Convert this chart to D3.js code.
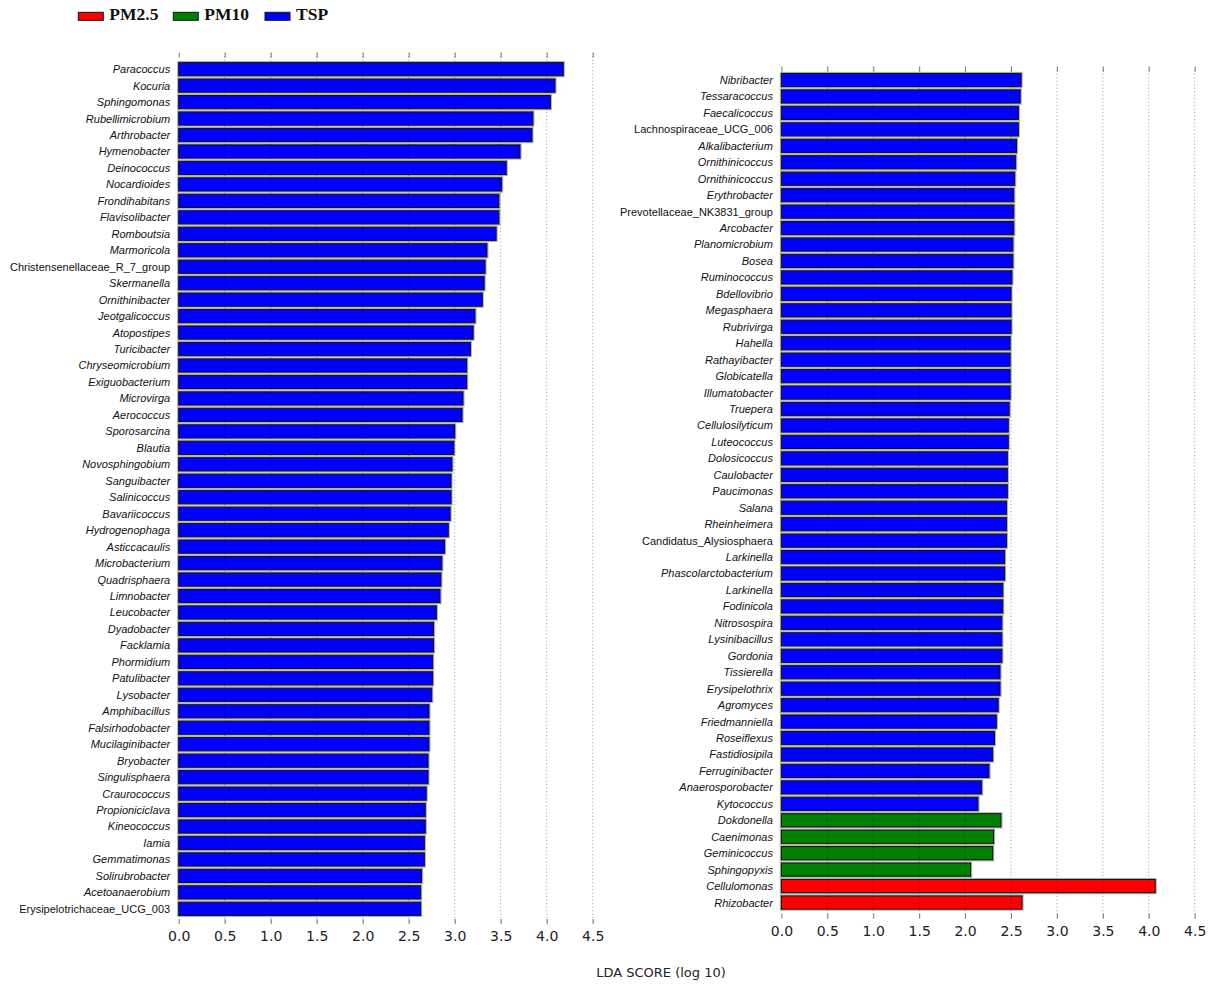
<!DOCTYPE html>
<html>
<head>
<meta charset="utf-8">
<script src="https://cdn.jsdelivr.net/npm/d3@7/dist/d3.min.js"></script>
<style>
  html, body { margin: 0; padding: 0; background: #fff; }
  svg { display: block; }
</style>
</head>
<body>
<div id="chart"></div>
<script>
// LEfSe LDA scores of discriminative genera, grouped by particle-size fraction
const groups = ["PM2.5", "PM10", "TSP"];
const groupColors = ["#ff0000", "#008000", "#0000ff"];

const leftTaxa = [
  "Paracoccus", "Kocuria", "Sphingomonas", "Rubellimicrobium", "Arthrobacter",
  "Hymenobacter", "Deinococcus", "Nocardioides", "Frondihabitans", "Flavisolibacter",
  "Romboutsia", "Marmoricola", "Christensenellaceae_R_7_group", "Skermanella", "Ornithinibacter",
  "Jeotgalicoccus", "Atopostipes", "Turicibacter", "Chryseomicrobium", "Exiguobacterium",
  "Microvirga", "Aerococcus", "Sporosarcina", "Blautia", "Novosphingobium",
  "Sanguibacter", "Salinicoccus", "Bavariicoccus", "Hydrogenophaga", "Asticcacaulis",
  "Microbacterium", "Quadrisphaera", "Limnobacter", "Leucobacter", "Dyadobacter",
  "Facklamia", "Phormidium", "Patulibacter", "Lysobacter", "Amphibacillus",
  "Falsirhodobacter", "Mucilaginibacter", "Bryobacter", "Singulisphaera", "Craurococcus",
  "Propioniciclava", "Kineococcus", "Iamia", "Gemmatimonas", "Solirubrobacter",
  "Acetoanaerobium", "Erysipelotrichaceae_UCG_003"
];
const leftScores = [
  4.18, 4.09, 4.04, 3.85, 3.84,
  3.71, 3.56, 3.51, 3.48, 3.48,
  3.45, 3.35, 3.33, 3.32, 3.30,
  3.22, 3.20, 3.17, 3.13, 3.13,
  3.09, 3.08, 3.00, 2.99, 2.97,
  2.96, 2.96, 2.95, 2.93, 2.89,
  2.86, 2.85, 2.84, 2.80, 2.77,
  2.77, 2.76, 2.76, 2.75, 2.72,
  2.72, 2.72, 2.71, 2.71, 2.69,
  2.68, 2.68, 2.67, 2.67, 2.64,
  2.63, 2.63
];
const leftGroups = leftTaxa.map(() => "TSP");

const rightTaxa = [
  "Nibribacter", "Tessaracoccus", "Faecalicoccus", "Lachnospiraceae_UCG_006", "Alkalibacterium",
  "Ornithinicoccus", "Ornithinicoccus", "Erythrobacter", "Prevotellaceae_NK3831_group", "Arcobacter",
  "Planomicrobium", "Bosea", "Ruminococcus", "Bdellovibrio", "Megasphaera",
  "Rubrivirga", "Hahella", "Rathayibacter", "Globicatella", "Illumatobacter",
  "Truepera", "Cellulosilyticum", "Luteococcus", "Dolosicoccus", "Caulobacter",
  "Paucimonas", "Salana", "Rheinheimera", "Candidatus_Alysiosphaera", "Larkinella",
  "Phascolarctobacterium", "Larkinella", "Fodinicola", "Nitrosospira", "Lysinibacillus",
  "Gordonia", "Tissierella", "Erysipelothrix", "Agromyces", "Friedmanniella",
  "Roseiflexus", "Fastidiosipila", "Ferruginibacter", "Anaerosporobacter", "Kytococcus",
  "Dokdonella", "Caenimonas", "Geminicoccus", "Sphingopyxis",
  "Cellulomonas", "Rhizobacter"
];
const rightScores = [
  2.61, 2.60, 2.58, 2.58, 2.56,
  2.55, 2.54, 2.53, 2.53, 2.53,
  2.52, 2.52, 2.51, 2.50, 2.50,
  2.50, 2.49, 2.49, 2.49, 2.49,
  2.48, 2.47, 2.47, 2.46, 2.46,
  2.46, 2.45, 2.45, 2.45, 2.43,
  2.43, 2.41, 2.41, 2.40, 2.40,
  2.40, 2.38, 2.38, 2.36, 2.34,
  2.32, 2.30, 2.26, 2.18, 2.14,
  2.39, 2.31, 2.30, 2.06,
  4.07, 2.62
];
const rightGroups = [
  ...Array(45).fill("TSP"),
  "PM10", "PM10", "PM10", "PM10",
  "PM2.5", "PM2.5"
];

const xTicks = [0, 0.5, 1, 1.5, 2, 2.5, 3, 3.5, 4, 4.5];
const xDomain = [0, 4.5];
const axisTitle = "LDA SCORE (log 10)";

const W = 1223, H = 987;
const color = d3.scaleOrdinal().domain(groups).range(groupColors);

const svg = d3.select("#chart").append("svg")
  .attr("width", W).attr("height", H)
  .attr("viewBox", `0 0 ${W} ${H}`);

// Two side-by-side panels
const panels = [
  { taxa: leftTaxa, scores: leftScores, grp: leftGroups,
    x0: 178.7, x1: 592.7, top: 52.7, bottom: 924, padTop: 1.0, padBottom: 0.92 },
  { taxa: rightTaxa, scores: rightScores, grp: rightGroups,
    x0: 781.4, x1: 1194.7, top: 66.7, bottom: 918.5, padTop: 0.81, padBottom: 0.97 }
];

panels.forEach(p => {
  const n = p.taxa.length;
  const x = d3.scaleLinear().domain(xDomain).range([p.x0, p.x1]);
  const y = d3.scaleLinear().domain([-p.padTop, n - 1 + p.padBottom]).range([p.top, p.bottom]);
  const step = y(1) - y(0);
  const barH = step * 0.8;
  const g = svg.append("g");

  const data = p.taxa.map((t, i) => ({ t, v: p.scores[i], grp: p.grp[i], i }));

  // soft grey halo under each bar edge
  g.append("g").selectAll("rect").data(data).join("rect")
    .attr("x", x(0) - 0.5)
    .attr("y", d => y(d.i) - barH / 2 - 0.5)
    .attr("width", d => x(d.v) - x(0) + 1)
    .attr("height", barH + 1)
    .attr("fill", "none")
    .attr("stroke", "#b0b0b0")
    .attr("stroke-width", 2.2);

  g.append("g").selectAll("rect").data(data).join("rect")
    .attr("x", x(0))
    .attr("y", d => y(d.i) - barH / 2)
    .attr("width", d => x(d.v) - x(0))
    .attr("height", barH)
    .attr("fill", d => color(d.grp))
    .attr("stroke", "#111")
    .attr("stroke-width", 1);

  // dotted vertical grid, drawn over the bars
  g.append("g").selectAll("line").data(xTicks.filter(t => t > 0)).join("line")
    .attr("x1", d => x(d)).attr("x2", d => x(d))
    .attr("y1", p.top).attr("y2", p.bottom)
    .attr("stroke", "#000")
    .attr("stroke-opacity", 0.4)
    .attr("stroke-width", 1)
    .attr("stroke-dasharray", "1,2.5");

  // taxon labels
  g.append("g").selectAll("text").data(data).join("text")
    .attr("x", x(0) - 8.5)
    .attr("y", d => y(d.i))
    .attr("dy", "0.36em")
    .attr("text-anchor", "end")
    .attr("font-family", "'Liberation Sans', Arial, sans-serif")
    .attr("font-size", 11)
    .attr("font-style", d => d.t.includes("_") ? "normal" : "italic")
    .attr("fill", "#111")
    .text(d => d.t);

  // bottom axis: inward ticks + labels
  const axB = d3.axisBottom(x).tickValues(xTicks).tickSize(-5).tickPadding(7.5)
    .tickFormat(d3.format(".1f"));
  const gb = g.append("g").attr("transform", `translate(0,${p.bottom})`).call(axB);
  gb.select(".domain").remove();
  gb.selectAll(".tick line").attr("stroke", "#777");
  gb.selectAll(".tick text")
    .attr("font-family", "'DejaVu Sans', sans-serif")
    .attr("font-size", 14)
    .attr("fill", "#222");

  // top axis: inward ticks only
  const axT = d3.axisTop(x).tickValues(xTicks).tickSize(-5).tickFormat("");
  const gt = g.append("g").attr("transform", `translate(0,${p.top})`).call(axT);
  gt.select(".domain").remove();
  gt.selectAll(".tick line").attr("stroke", "#777");
});

// shared axis title
svg.append("text")
  .attr("x", 661).attr("y", 977)
  .attr("text-anchor", "middle")
  .attr("font-family", "'DejaVu Sans', sans-serif")
  .attr("font-size", 13)
  .attr("fill", "#222")
  .text(axisTitle);

// legend
const legendX = [78.3, 173.3, 265];
const leg = svg.append("g");
groups.forEach((gname, i) => {
  leg.append("rect")
    .attr("x", legendX[i]).attr("y", 12.3)
    .attr("width", 25).attr("height", 8)
    .attr("fill", color(gname))
    .attr("stroke", "#111").attr("stroke-width", 1);
  leg.append("text")
    .attr("x", legendX[i] + 31).attr("y", 20)
    .attr("font-family", "'Liberation Serif', 'Times New Roman', serif")
    .attr("font-weight", "bold")
    .attr("font-size", 17.5)
    .attr("fill", "#111")
    .text(gname);
});
</script>
</body>
</html>
